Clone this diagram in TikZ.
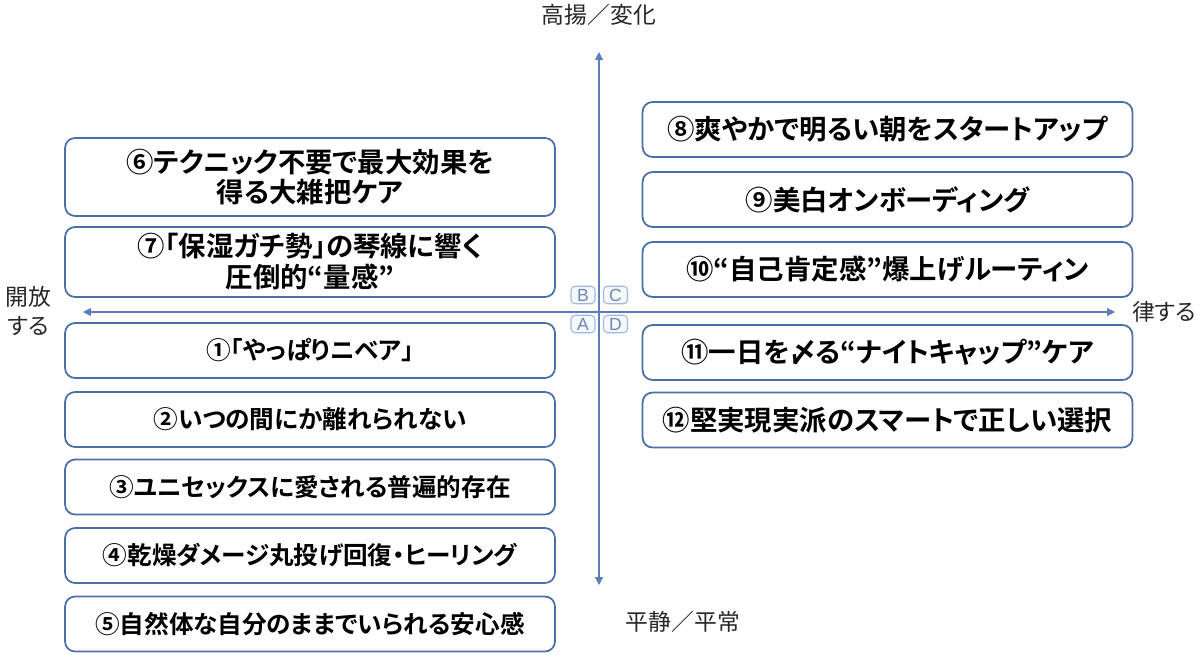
\documentclass[tikz,border=0pt]{standalone}
\usepackage{fontspec}
\setmainfont{Noto Sans CJK JP}[RawFeature=+palt, BoldFont={Noto Sans CJK JP Bold}]
\newfontfamily\latinfont{Liberation Sans}
\usepackage{tikz}
\usetikzlibrary{arrows.meta}

\definecolor{cardblue}{HTML}{4A6EA9}
\definecolor{axisblue}{HTML}{5B7EBD}
\definecolor{tagblue}{HTML}{A3B7DD}
\definecolor{tagfill}{HTML}{F5F8FD}
\definecolor{tagtext}{HTML}{6F87B5}

\begin{document}
\begin{tikzpicture}[x=0.02cm, y=-0.02cm]
        \useasboundingbox (0,0) rectangle (1200,654);
        \tikzstyle{CardStyle} = [draw=cardblue, line width=1pt, rounded corners=0.2cm,
            minimum width=9.8cm, minimum height=1.1cm, inner sep=0pt, align=center,
            font=\bfseries\fontsize{14}{17.6}\selectfont]
        \tikzstyle{BigCard} = [CardStyle, font=\bfseries\fontsize{15.6}{17.6}\selectfont]
        \tikzstyle{TagStyle} = [draw=tagblue, fill=tagfill, line width=0.6pt, rounded corners=0.08cm,
            minimum width=0.48cm, minimum height=0.35cm, inner sep=0pt,
            text=tagtext, font=\latinfont\fontsize{10}{10}\selectfont]
        \tikzstyle{AxisLabel} = [align=center, text=black!85, font=\fontsize{13}{16.5}\selectfont]
        \tikzstyle{AxisStyle} = [draw=axisblue, line width=0.6pt,
            {Triangle[length=4.5pt, width=4.5pt]}-{Triangle[length=4.5pt, width=4.5pt]}]
        % axes
        \coordinate (top) at (599,52);
        \coordinate (bottom) at (599,585);
        \coordinate (left) at (83,312);
        \coordinate (right) at (1115,312);
        \draw[AxisStyle] (bottom) -- (top);
        \draw[AxisStyle] (left) -- (right);
        \node[AxisLabel] (up) at (599,15) {高揚／変化};
        \node[AxisLabel] (down) at (683,622) {平静／平常};
        \node[AxisLabel] (open) at (28,311) {開放\\する};
        \node[AxisLabel] (rule) at (1164,312) {律する};
        % quadrant tags
        \node[TagStyle] (B) at (583,295) {B};
        \node[TagStyle] (C) at (615.5,295) {C};
        \node[TagStyle] (A) at (583,324) {A};
        \node[TagStyle] (D) at (615.5,324) {D};
        % left side
        \node[BigCard, minimum height=1.56cm] (c6) at (310,177) {⑥テクニック不要で最大効果を\\得る大雑把ケア};
        \node[BigCard, minimum height=1.4cm] (c7) at (310,262) {⑦「保湿ガチ勢」の琴線に響く\\圧倒的“量感”};
        \node[CardStyle] (c1) at (310,350.5) {①「やっぱりニベア」};
        \node[CardStyle] (c2) at (310,419.5) {②いつの間にか離れられない};
        \node[CardStyle] (c3) at (310,487) {③ユニセックスに愛される普遍的存在};
        \node[CardStyle] (c4) at (310,555.5) {④乾燥ダメージ丸投げ回復・ヒーリング};
        \node[CardStyle] (c5) at (310,624) {⑤自然体な自分のままでいられる安心感};
        % right side
        \node[BigCard] (c8) at (887.5,129.5) {⑧爽やかで明るい朝をスタートアップ};
        \node[BigCard] (c9) at (887.5,199.5) {⑨美白オンボーディング};
        \node[BigCard] (c10) at (887.5,269.5) {⑩“自己肯定感”爆上げルーティン};
        \node[BigCard] (c11) at (887.5,352.5) {⑪一日を〆る“ナイトキャップ”ケア};
        \node[BigCard] (c12) at (887.5,420) {⑫堅実現実派のスマートで正しい選択};
    \end{tikzpicture}
\end{document}
